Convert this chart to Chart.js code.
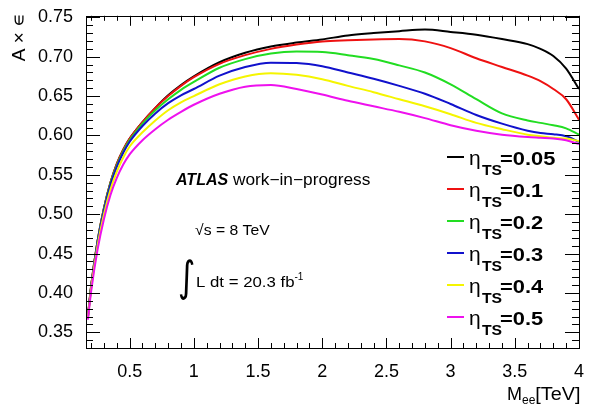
<!DOCTYPE html>
<html>
<head>
<meta charset="utf-8">
<script src="https://cdn.jsdelivr.net/npm/chart.js@4.4.0/dist/chart.umd.min.js"></script>
<style>
  html, body { margin: 0; padding: 0; background: #fff; }
  #wrap { width: 589px; height: 406px; position: relative; }
</style>
</head>
<body>
<div id="wrap"><canvas id="accEff"></canvas></div>
<script>
// M_ee points [TeV]
const massTeV = [0.175, 0.2, 0.25, 0.3, 0.35, 0.4, 0.45, 0.5, 0.6, 0.7, 0.8, 0.9, 1.0, 1.2, 1.4, 1.6, 1.8,
                 2.0, 2.2, 2.4, 2.6, 2.8, 3.0, 3.2, 3.4, 3.6, 3.7, 3.8, 3.9, 4.0];

// A x eff for each eta_TS cut
const accEta005 = [0.370, 0.409, 0.466, 0.508, 0.540, 0.564, 0.582, 0.596, 0.617, 0.635, 0.651, 0.664, 0.675, 0.693, 0.705, 0.713, 0.718,
                   0.722, 0.727, 0.730, 0.7325, 0.7345, 0.7315, 0.728, 0.7225, 0.716, 0.710, 0.701, 0.685, 0.659];
const accEta01  = [0.370, 0.409, 0.466, 0.508, 0.540, 0.564, 0.582, 0.596, 0.617, 0.635, 0.650, 0.663, 0.674, 0.691, 0.702, 0.710, 0.7155,
                   0.7195, 0.721, 0.722, 0.7225, 0.7195, 0.711, 0.698, 0.687, 0.676, 0.669, 0.659, 0.646, 0.620];
const accEta02  = [0.369, 0.408, 0.465, 0.507, 0.539, 0.562, 0.580, 0.594, 0.615, 0.632, 0.646, 0.658, 0.668, 0.686, 0.697, 0.704, 0.7065,
                   0.706, 0.702, 0.697, 0.689, 0.680, 0.665, 0.646, 0.628, 0.619, 0.616, 0.613, 0.609, 0.601];
const accEta03  = [0.369, 0.407, 0.464, 0.505, 0.537, 0.560, 0.578, 0.592, 0.612, 0.628, 0.641, 0.651, 0.659, 0.676, 0.687, 0.6925, 0.692,
                   0.688, 0.680, 0.672, 0.663, 0.653, 0.640, 0.626, 0.615, 0.606, 0.603, 0.6015, 0.599, 0.592];
const accEta04  = [0.368, 0.405, 0.460, 0.500, 0.531, 0.554, 0.572, 0.586, 0.604, 0.619, 0.632, 0.642, 0.650, 0.665, 0.675, 0.679, 0.677,
                   0.6715, 0.663, 0.655, 0.646, 0.637, 0.627, 0.616, 0.608, 0.601, 0.599, 0.597, 0.596, 0.593];
const accEta05  = [0.366, 0.402, 0.455, 0.494, 0.524, 0.546, 0.563, 0.576, 0.594, 0.608, 0.620, 0.630, 0.639, 0.653, 0.662, 0.664, 0.659,
                   0.652, 0.644, 0.637, 0.630, 0.622, 0.613, 0.606, 0.601, 0.598, 0.597, 0.596, 0.594, 0.589];

const etaCuts = ['0.05', '0.1', '0.2', '0.3', '0.4', '0.5'];
const seriesValues = [accEta005, accEta01, accEta02, accEta03, accEta04, accEta05];
const lineColors = ['#000000', '#ee1111', '#22dd22', '#1111cc', '#f5f500', '#ee11ee'];

const FONT = "'Liberation Sans', Arial, Helvetica, sans-serif";

function drawText(ctx, str, x, y, font, sx, align) {
    ctx.save();
    ctx.font = font;
    ctx.textAlign = align || 'left';
    ctx.textBaseline = 'alphabetic';
    ctx.translate(x, y);
    ctx.scale(sx || 1, 1);
    ctx.fillText(str, 0, 0);
    const w = ctx.measureText(str).width * (sx || 1);
    ctx.restore();
    return w;
}

// ROOT style frame: box + inward ticks on all four sides
const rootFrame = {
    id: 'rootFrame',
    afterDatasetsDraw(chart) {
        const ctx = chart.ctx;
        const a = chart.chartArea;
        const xs = chart.scales.x, ys = chart.scales.y;
        ctx.save();
        ctx.strokeStyle = '#000';
        ctx.lineWidth = 1;
        ctx.strokeRect(Math.round(a.left) + 0.5, Math.round(a.top) + 0.5,
                       Math.round(a.right - a.left), Math.round(a.bottom - a.top));
        ctx.beginPath();
        for (let k = Math.ceil(xs.min * 10 - 1e-6); k <= Math.floor(xs.max * 10 + 1e-6); k++) {
            const px = Math.round(xs.getPixelForValue(k / 10)) + 0.5;
            const len = (k % 5 === 0) ? 10 : 5;
            ctx.moveTo(px, a.bottom); ctx.lineTo(px, a.bottom - len);
            ctx.moveTo(px, a.top); ctx.lineTo(px, a.top + len);
        }
        for (let k = Math.ceil(ys.min * 100 - 1e-6); k <= Math.floor(ys.max * 100 + 1e-6); k++) {
            const py = Math.round(ys.getPixelForValue(k / 100)) + 0.5;
            const len = (k % 5 === 0) ? 14 : 7;
            ctx.moveTo(a.left, py); ctx.lineTo(a.left + len, py);
            ctx.moveTo(a.right, py); ctx.lineTo(a.right - len, py);
        }
        ctx.stroke();
        ctx.restore();
    }
};

// axis titles, legend and ATLAS labels
const rootText = {
    id: 'rootText',
    afterDraw(chart) {
        const ctx = chart.ctx;
        ctx.save();
        ctx.fillStyle = '#000';

        // y title, rotated, flush with top of frame
        ctx.save();
        ctx.translate(25, 13);
        ctx.rotate(-Math.PI / 2);
        drawText(ctx, 'A \u00d7 \u220a', 0, 0, '19px ' + FONT, 1, 'right');
        ctx.restore();

        // x title M_ee[TeV]
        let x = 507;
        x += drawText(ctx, 'M', x, 400, '18px ' + FONT, 1);
        x += drawText(ctx, 'ee', x, 404, '12px ' + FONT, 1);
        drawText(ctx, '[TeV]', x, 400, '18px ' + FONT, 1.1);

        // ATLAS label
        let ax = 176;
        ax += drawText(ctx, 'ATLAS', ax, 185, 'italic bold 16px ' + FONT, 1.0);
        drawText(ctx, ' work\u2212in\u2212progress', ax, 185, '16px ' + FONT, 1.08);

        drawText(ctx, '\u221as = 8 TeV', 195, 235, '15px ' + FONT, 1.05);
        drawText(ctx, '\u222b', 178, 291, '42px "DejaVu Sans"', 0.8);
        const lw = drawText(ctx, 'L dt = 20.3 fb', 196, 287, '15px ' + FONT, 1.12);
        drawText(ctx, '-1', 196 + lw, 280, '10px ' + FONT, 1);

        // legend
        chart.data.datasets.forEach((ds, i) => {
            const y0 = 157 + 32 * i;
            ctx.strokeStyle = ds.borderColor;
            ctx.lineWidth = 2;
            ctx.beginPath();
            ctx.moveTo(447, y0); ctx.lineTo(464, y0);
            ctx.stroke();
            drawText(ctx, '\u03b7', 469, y0 + 8, '21px ' + FONT, 1);
            drawText(ctx, 'TS', 482, y0 + 18, 'bold 15px ' + FONT, 1.05);
            drawText(ctx, '=' + etaCuts[i], 500, y0 + 8, 'bold 19px ' + FONT, 1.15);
        });
        ctx.restore();
    }
};

const accData = {
    datasets: seriesValues.map((vals, i) => ({
        label: '\u03b7TS=' + etaCuts[i],
        data: massTeV.map((m, j) => ({ x: m, y: vals[j] })),
        borderColor: lineColors[i],
        backgroundColor: lineColors[i],
        borderWidth: 2,
        pointRadius: 0,
        fill: false,
        cubicInterpolationMode: 'monotone',
        order: seriesValues.length - i,
    })),
};

const accOptions = {
    responsive: true,
    maintainAspectRatio: false,
    animation: false,
    layout: { padding: { top: 13, right: 6, left: 0, bottom: 0 } },
    scales: {
        x: {
            type: 'linear',
            min: 0.16,
            max: 4.0,
            grid: { display: false },
            border: { display: false },
            ticks: {
                stepSize: 0.5,
                includeBounds: false,
                maxRotation: 0,
                autoSkip: false,
                padding: 5,
                color: '#000',
                font: { family: FONT, size: 18 },
                callback: v => String(parseFloat(v.toFixed(2))),
            },
            afterFit: s => { s.height = 58; },
        },
        y: {
            type: 'linear',
            min: 0.33,
            max: 0.752,
            grid: { display: false },
            border: { display: false },
            ticks: {
                stepSize: 0.05,
                includeBounds: false,
                autoSkip: false,
                padding: 5,
                color: '#000',
                font: { family: FONT, size: 18 },
                callback: v => v.toFixed(2),
            },
            afterFit: s => { s.width = 86; },
        },
    },
    plugins: {
        legend: { display: false },
        tooltip: { enabled: false },
    },
};

new Chart(document.getElementById('accEff'), {
    type: 'line',
    data: accData,
    options: accOptions,
    plugins: [rootFrame, rootText],
});
</script>
</body>
</html>
